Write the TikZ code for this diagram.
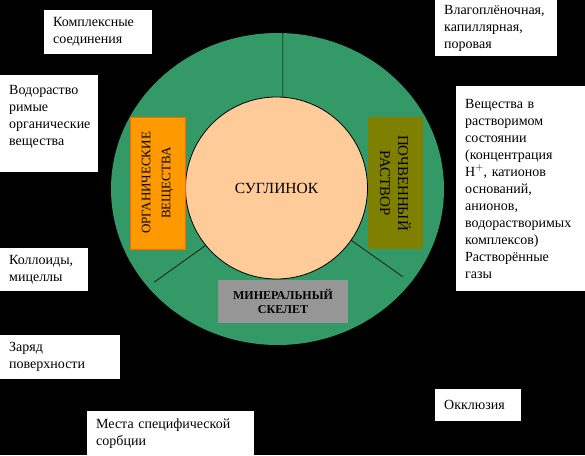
\documentclass[tikz,border=0pt]{standalone}
\usepackage{fontspec}
\setmainfont{Liberation Serif}
\usetikzlibrary{shapes.geometric}
\definecolor{ringgreen}{HTML}{339966}
\definecolor{peach}{HTML}{FFCC99}
\definecolor{orangefill}{HTML}{FF9900}
\definecolor{orangeedge}{HTML}{FF6600}
\definecolor{olivefill}{HTML}{808000}
\definecolor{grayfill}{HTML}{969696}
\begin{document}
\begin{tikzpicture}[x=1pt,y=-1pt,
  wbox/.style={fill=white, draw=none, anchor=north west, align=left,
    inner xsep=9pt, inner ysep=0pt, font=\fontsize{14}{17}\selectfont},
  divider/.style={draw=black, line width=0.6pt},
  vbox/.style={minimum width=132pt, minimum height=55pt, inner sep=0pt, align=center}
]
\fill[black] (0,0) rectangle (585,455);
\useasboundingbox (0,0) rectangle (585,455);

% outer ring and core
\node[ellipse, fill=ringgreen, minimum width=333pt, minimum height=312pt, inner sep=0pt] (ring) at (277.5,189) {};
\node[circle, draw=black, line width=0.8pt, fill=peach, minimum size=182pt, inner sep=0pt,
  font=\fontsize{15.5}{18}\selectfont] (core) at (276.5,188) {СУГЛИНОК};

% dividers
\draw[divider] (core.86) -- (ring.88);
\draw[divider, shorten >=8pt] (core.219) -- (ring.217);
\draw[divider, shorten >=10pt] (core.-35) -- (ring.-35);

% sector boxes
\node[vbox, rotate=90, fill=orangefill, draw=orangeedge, line width=1pt,
  font=\fontsize{13}{20}\selectfont] (org) at (157.5,183) {ОРГАНИЧЕСКИЕ\\ВЕЩЕСТВА};
\node[vbox, rotate=-90, fill=olivefill,
  font=\fontsize{15}{18}\selectfont] (sol) at (395.5,183) {ПОЧВЕННЫЙ\\РАСТВОР};
\node[fill=grayfill, minimum width=130pt, minimum height=43pt, inner sep=0pt, align=center,
  font=\bfseries\fontsize{12}{14}\selectfont] (min) at (283,301.5) {МИНЕРАЛЬНЫЙ\\СКЕЛЕТ};

% white label boxes
\node[wbox, text width=90pt, minimum height=44pt] (komp) at (44,10) {Комплексные\\соединения};
\node[wbox, text width=80pt, minimum height=97pt] (vodo) at (0,75) {Водораство\\римые\\органические\\вещества\\\mbox{}};
\node[wbox, text width=104pt, minimum height=56pt] (vlago) at (435,0) {Влагоплёночная,\\капиллярная,\\поровая};
\node[wbox, text width=111pt, minimum height=205pt] (vesch) at (456,86) {Вещества в\\растворимом\\состоянии\\(концентрация\\H$^{+}$, катионов\\оснований,\\анионов,\\водорастворимых\\комплексов)\\Растворённые\\газы};
\node[wbox, text width=70pt, minimum height=43pt] (koll) at (0,248) {Коллоиды,\\мицеллы};
\node[wbox, text width=102pt, minimum height=44pt] (zar) at (0,335) {Заряд\\поверхности};
\node[wbox, text width=149pt, minimum height=44pt] (mesta) at (87,411) {Места специфической\\сорбции};
\node[wbox, text width=68pt, minimum height=32pt] (okkl) at (435,389) {Окклюзия};
\end{tikzpicture}
\end{document}
